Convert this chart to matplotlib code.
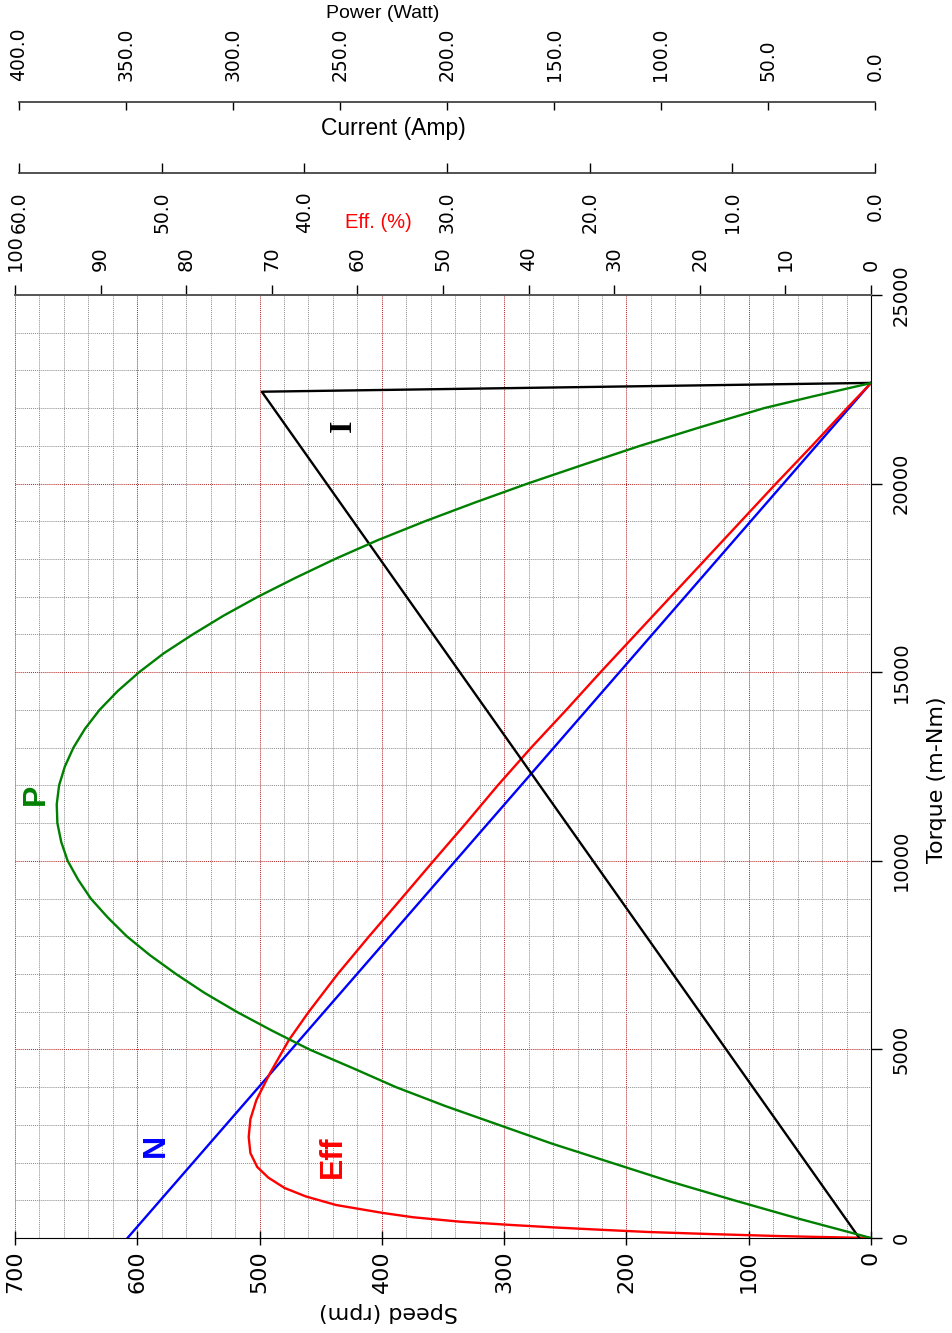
import matplotlib
matplotlib.use("Agg")
import matplotlib.pyplot as plt
from matplotlib.ticker import MultipleLocator, FuncFormatter

plt.rcParams['font.family'] = ['DejaVu Sans']

# ---------------- data ----------------
speed_torque = [0, 22670]            # m-Nm
speed_rpm = [608, 0]

current_torque = [0, 22436, 22670]
current_amp = [0.82, 42.7, 0.0]

power_torque = [0, 500, 1000, 1500, 2000, 2500, 3000, 3500, 4000, 4500, 5000,
                5500, 6000, 6500, 7000, 7500, 8000, 8500, 9000, 9500, 10000,
                10500, 11000, 11500, 12000, 12500, 13000, 13500, 14000, 14500,
                15000, 15500, 16000, 16500, 17000, 17500, 18000, 18500, 19000,
                19500, 20000, 20500, 21000, 21500, 22000, 22300, 22666]
power_watt = [0, 33, 64, 94, 121.5, 149, 174, 199, 222, 242, 262.5,
              280, 296.5, 311.5, 324.8, 337, 347.8, 356.7, 364.6, 370.5, 375.4,
              378.4, 380.2, 380.5, 379.4, 376.7, 372.7, 367.3, 360.5, 352,
              342, 330.5, 317, 302.5, 286.5, 269, 250.5, 230.5, 208.5,
              185, 160.5, 134.5, 108, 79.5, 50, 28, 0]

eff_torque = [0, 27, 53, 106, 159, 212, 280, 345, 432, 550, 663, 875, 1100,
              1325, 1600, 1882, 2250, 2678, 3150, 3658, 4374, 5249, 5991, 6999,
              7980, 8987, 10000, 11000, 12000, 13000, 14000, 15000, 16000,
              17000, 18000, 19000, 20000, 21000, 22000, 22666]
eff_pct = [0, 6, 11, 19, 26, 31, 37, 42, 48, 53.5, 57, 62.5, 66,
           68.5, 70.4, 71.7, 72.5, 72.7, 72.5, 71.8, 70.2, 68.0, 65.7, 62.3,
           58.7, 54.9, 51.1, 47.3, 43.6, 39.7, 35.6, 31.6, 27.5,
           23.4, 19.3, 15.2, 11.1, 6.9, 2.8, 0]

speed_ticks = list(range(0, 701, 100))
torque_ticks = list(range(0, 25001, 5000))
eff_ticks = list(range(0, 101, 10))
current_ticks = [0, 10, 20, 30, 40, 50, 60]
power_ticks = list(range(0, 401, 50))

# ---------------- figure ----------------
W, H = 953, 1333
fig = plt.figure(figsize=(W / 100, H / 100), dpi=100)


def fx(px):
    return px / W


def fy(py):
    return 1 - py / H


L, R, T, B = 15, 871, 295, 1238
ax = fig.add_axes([fx(L), fy(B), (R - L) / W, (B - T) / H])
ax.set_xlim(700, 0)
ax.set_ylim(0, 25000)
ax.set_xticks(speed_ticks)
ax.set_yticks(torque_ticks)
ax.xaxis.set_minor_locator(MultipleLocator(20))
ax.yaxis.set_minor_locator(MultipleLocator(1000))
ax.grid(which='minor', color='#8c8c8c', linestyle=(0, (1, 1)), linewidth=0.7)
ax.grid(which='major', color='#b22222', linestyle=(0, (1, 1)), linewidth=0.7)
ax.set_axisbelow(True)
ax.yaxis.tick_right()
ax.tick_params(which='minor', length=0)
ax.tick_params(axis='x', which='major', direction='inout', length=10, width=1,
               labelrotation=90, labelsize=16, pad=4)
ax.tick_params(axis='y', which='major', direction='out', length=8, width=1,
               labelrotation=90, labelsize=14, pad=7)
for lab in ax.get_yticklabels():
    lab.set_va('center')
ax.spines['left'].set_visible(False)
ax.spines['top'].set_visible(False)
ax.spines['bottom'].set_color('black')
ax.spines['right'].set_color('black')

ax.plot(speed_rpm, speed_torque, color='#0000ff', lw=1.7, zorder=3)

# efficiency (top spine)
ax_e = ax.twiny()
ax_e.set_xlim(100, 0)
ax_e.set_xticks(eff_ticks)
ax_e.tick_params(axis='x', direction='out', length=7, width=1, labelrotation=90,
                 labelsize=14, pad=10)
for s in ['left', 'right', 'bottom']:
    ax_e.spines[s].set_visible(False)
ax_e.spines['top'].set_color('#555555')
ax_e.spines['top'].set_linewidth(1.4)

# current and power (curves on hidden twins)
ax_c = ax.twiny()
ax_c.set_xlim(60, 0)
ax_c.axis('off')
ax_p = ax.twiny()
ax_p.set_xlim(400, 0)
ax_p.axis('off')

ax_p.plot(power_watt, power_torque, color='#008000', lw=1.7, zorder=3)
ax_c.plot(current_amp, current_torque, color='black', lw=1.7, zorder=3)
ax_e.plot(eff_pct, eff_torque, color='#ff0000', lw=1.7, zorder=3)

# curve labels
ax.text(0.165, 0.098, 'N', transform=ax.transAxes, rotation=90, color='#0000ff',
        fontsize=23, fontweight='bold', family='Liberation Sans', ha='center', va='center')
ax.text(0.371, 0.086, 'Eff', transform=ax.transAxes, rotation=90, color='#ff0000',
        fontsize=23, fontweight='bold', family='Liberation Sans', ha='center', va='center')
ax.text(0.0245, 0.470, 'P', transform=ax.transAxes, rotation=90, color='#008000',
        fontsize=23, fontweight='bold', family='Liberation Sans', ha='center', va='center')
ax.text(0.384, 0.861, 'I', transform=ax.transAxes, rotation=90, color='black',
        fontsize=23, fontweight='bold', family='Liberation Serif', ha='center', va='center')

# decorative current axis
DL, DR = 19, 875
ax_cd = fig.add_axes([fx(DL), fy(173), (DR - DL) / W, 0.0001])
ax_cd.set_xlim(60, 0)
ax_cd.set_xticks(current_ticks)
ax_cd.xaxis.set_major_formatter(FuncFormatter(lambda v, p: f"{v:.1f}"))
ax_cd.set_yticks([])
for s in ['left', 'right', 'top']:
    ax_cd.spines[s].set_visible(False)
ax_cd.spines['bottom'].set_color('#333333')
ax_cd.spines['bottom'].set_linewidth(1.2)
ax_cd.patch.set_visible(False)
ax_cd.tick_params(axis='x', direction='in', length=7, width=1, labelrotation=90,
                  labelsize=13.5, pad=13.5, colors='black')

# decorative power axis
ax_pd = fig.add_axes([fx(DL), fy(102), (DR - DL) / W, 0.0001])
ax_pd.set_xlim(400, 0)
ax_pd.set_xticks(power_ticks)
ax_pd.xaxis.set_major_formatter(FuncFormatter(lambda v, p: f"{v:.1f}"))
ax_pd.set_yticks([])
for s in ['left', 'right', 'top']:
    ax_pd.spines[s].set_visible(False)
ax_pd.spines['bottom'].set_color('#333333')
ax_pd.spines['bottom'].set_linewidth(1.2)
ax_pd.patch.set_visible(False)
ax_pd.tick_params(axis='x', direction='out', length=6, width=1, labelrotation=90,
                  labelsize=13.5, pad=9, bottom=True, top=False,
                  labelbottom=False, labeltop=True)

# titles / axis labels
fig.text(fx(383), fy(14), 'Power (Watt)', ha='center', va='center',
         fontsize=14, family='Liberation Sans')
fig.text(fx(393), fy(129), 'Current (Amp)', ha='center', va='center',
         fontsize=16.5, family='Liberation Sans')
fig.text(fx(378), fy(223), 'Eff. (%)', ha='center', va='center',
         fontsize=14.5, family='Liberation Sans', color='#ff0000')
fig.text(fx(937), fy(780), 'Torque (m-Nm)', ha='center', va='center',
         rotation=90, fontsize=16)
fig.text(fx(388), fy(1312), 'Speed (rpm)', ha='center', va='center',
         rotation=180, fontsize=16)

fig.savefig('out.png', dpi=100)
